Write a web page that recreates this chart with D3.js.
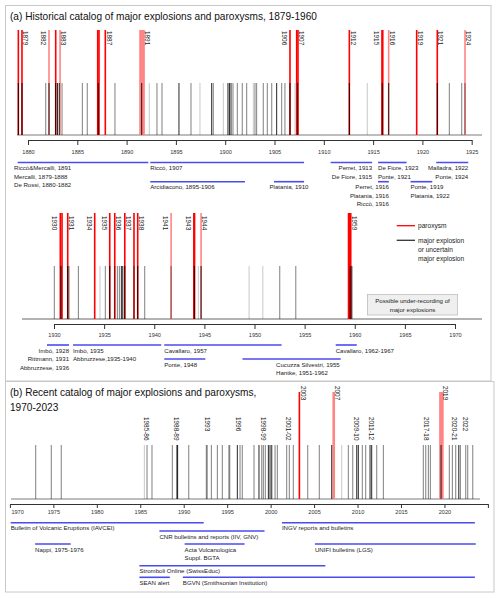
<!DOCTYPE html>
<html><head><meta charset="utf-8">
<script src="https://cdn.jsdelivr.net/npm/d3@7"></script>
<style>body{margin:0;background:#fff}svg{display:block}</style>
</head><body><svg id="c" width="500" height="598"></svg>
<script>
// ---------------- DATA ----------------
// Panel (a), upper row 1879-1925: paroxysms [start, end, certain(1)/uncertain(0)]
const paroxysmsA1 = [[1879.02,1879.02,1],[1879.39,1879.39,1],[1882.13,1882.13,0],[1882.81,1882.81,1],[1883.25,1883.25,0],[1887.07,1887.07,1],[1887.2,1887.2,1],[1887.84,1887.84,1],[1891.36,1891.77,0],[1906.57,1906.57,1],[1907.25,1907.25,1],[1907.38,1907.38,1],[1912.59,1912.59,1],[1915.9,1915.9,1],[1915.98,1915.98,1],[1916.58,1916.58,0],[1919.42,1919.42,1],[1921.51,1921.51,1],[1924.32,1924.32,0]];
// major explosions [year, number of reports]
const explosionsA1 = [[1879.02,3],[1879.39,3],[1881.8,2],[1882.13,3],[1882.81,3],[1882.99,3],[1883.17,3],[1883.45,2],[1885.51,2],[1886.01,2],[1887.13,3],[1888.82,2],[1891.53,3],[1892.3,1],[1893.08,2],[1893.59,2],[1895.31,3],[1896.53,2],[1897.44,1],[1898.63,3],[1898.79,2],[1899.81,1],[1900.28,3],[1900.43,3],[1900.59,3],[1900.79,2],[1901.23,2],[1901.73,2],[1902.18,2],[1902.85,1],[1903.02,2],[1903.19,2],[1903.86,2],[1904.27,2],[1904.72,2],[1905.22,3],[1905.73,2],[1906.06,2],[1906.57,3],[1907.08,1],[1907.35,3],[1912.59,3],[1914.41,1],[1915.93,3],[1916.58,3],[1921.51,3],[1922.73,2],[1923.99,2],[1924.32,2]];
// paroxysm year labels [text, year of line, side]
const labelsA1 = [["1879",1879.39,1],["1882",1882.13,-1],["1883",1883.25,1],["1887",1887.84,1],["1891",1891.77,1],["1906",1906.57,-1],["1907",1907.38,1],["1912",1912.59,1],["1915",1915.9,-1],["1916",1916.58,1],["1919",1919.42,1],["1921",1921.51,1],["1924",1924.32,1]];
const ticksA1 = [1880,1885,1890,1895,1900,1905,1910,1915,1920,1925];
const sourcesA1 = [
 [["Riccò&Mercalli, 1891","Mercalli, 1879-1888","De Rossi, 1880-1882"],1878.95,1892.2],
 [["Riccò, 1907"],1892.4,1908.0],
 [["Arcidiacono, 1895-1906"],1892.4,1902.0],
 [["Platania, 1910"],1904.95,1908.0],
 [["Perret, 1913","De Fiore, 1915"],1910.7,1914.9],
 [["De Fiore, 1923","Ponte, 1921"],1915.5,1918.4],
 [["Perret, 1916","Platania, 1916","Riccò, 1916"],1915.5,1916.6],
 [["Ponte, 1919","Platania, 1922"],1918.8,1921.0],
 [["Malladra, 1922","Ponte, 1924"],1921.4,1924.65]
];

// Panel (a), lower row 1930-1970
const paroxysmsA2 = [[1930.63,1930.63,1],[1930.8,1930.8,1],[1931.37,1931.37,1],[1934.06,1934.06,1],[1935.56,1935.56,1],[1936.06,1936.06,1],[1937.06,1937.06,1],[1937.98,1937.98,1],[1938.35,1938.35,1],[1941.68,1941.68,0],[1943.95,1943.95,1],[1944.02,1944.02,1],[1944.67,1944.67,0],[1959.38,1959.6,1]];
const explosionsA2 = [[1930.03,2],[1930.7,3],[1931.37,3],[1931.5,2],[1932.43,2],[1934.59,1],[1935.12,2],[1935.56,3],[1936.06,2],[1936.32,2],[1936.52,2],[1936.72,3],[1936.86,3],[1937.06,3],[1937.98,2],[1938.35,3],[1939.05,2],[1941.68,2],[1944.0,3],[1944.4,1],[1944.67,3],[1949.46,1],[1950.83,1],[1952.52,2],[1954.12,2],[1959.54,3],[1959.71,3]];
const labelsA2 = [["1930",1930.63,-1],["1931",1931.37,1],["1934",1934.06,-1],["1935",1935.56,-1],["1936",1936.06,1],["1937",1937.06,1],["1938",1938.35,1],["1941",1941.68,-1],["1943",1943.95,-1],["1944",1944.67,1],["1959",1959.6,1]];
const ticksA2 = [1930,1935,1940,1945,1950,1955,1960,1965,1970];
const sourcesA2 = [
 [["Imbò, 1928","Rittmann, 1931","Abbruzzese, 1936"],1929.3,1931.5],
 [["Imbò, 1935","Abbruzzese,1935-1940"],1931.9,1940.7],
 [["Cavallaro, 1957"],1941.0,1952.7],
 [["Ponte, 1948"],1941.0,1945.1],
 [["Cucuzza Silvestri, 1955","Hantke, 1951-1962"],1948.8,1958.6],
 [["Cavallaro, 1962-1967"],1958.1,1960.2]
];

// Panel (b), 1970-2023
const paroxysmsB = [[2003.31,2003.31,1],[2007.2,2007.32,0],[2019.48,2019.82,0]];
const explosionsB = [[1972.97,2],[1974.76,2],[1975.91,2],[1985.47,1],[1985.78,2],[1986.35,2],[1988.69,2],[1989.22,3],[1989.3,3],[1990.58,2],[1992.6,2],[1992.7,2],[1993.18,2],[1993.87,2],[1994.44,2],[1995.2,2],[1995.3,2],[1996.17,3],[1996.48,2],[1996.74,2],[1998.09,2],[1998.66,3],[1998.98,2],[1999.16,2],[1999.39,2],[1999.74,3],[1999.93,3],[2000.13,3],[2000.51,2],[2000.77,2],[2001.85,2],[2002.15,2],[2002.61,2],[2004.27,2],[2005.6,2],[2007.03,3],[2008.18,1],[2008.94,2],[2009.45,2],[2009.91,3],[2010.09,3],[2010.55,2],[2010.94,2],[2011.44,3],[2011.63,3],[2012.21,2],[2012.97,2],[2017.57,2],[2017.85,2],[2018.15,2],[2018.38,2],[2019.61,3],[2020.56,2],[2020.91,2],[2021.3,2],[2021.65,3],[2021.83,2],[2022.45,2],[2022.68,2],[2023.26,2]];
const paroxysmLabelsB = [["2003",2003.73],["2007",2007.64],["2019",2020.07]];
const explosionLabelsB = [["1985-86",1985.74],["1988-89",1989.19],["1993",1992.72],["1996",1996.28],["1998-99",1999.16],["2001-02",2002.04],["2009-10",2009.91],["2011-12",2011.63],["2017-18",2017.88],["2020-21",2021.1],["2022",2022.48]];
const ticksB = [1970,1975,1980,1985,1990,1995,2000,2005,2010,2015,2020,2025];
const sourcesB = [
 [["Bulletin of Volcanic Eruptions (IAVCEI)"],1970.09,1992.3],
 [["CNR bulletins and reports (IIV, GNV)"],1987.2,1999.3],
 [["INGV reports and bulletins"],2001.3,2023.5],
 [["Nappi, 1975-1976"],1972.9,1977.0],
 [["Acta Vulcanologica","Suppl. BGTA"],1990.1,1997.0],
 [["UNIFI bulletins (LGS)"],2005.1,2023.6],
 [["Stromboli Online (SwissEduc)"],1984.9,2006.3],
 [["SEAN alert"],1984.9,1988.4],
 [["BGVN (Smithsonian Institution)"],1989.9,2023.5]
];

// ---------------- LAYOUT ----------------
const FONT = "'Liberation Sans', Arial, sans-serif";
const RED = "#ff0000", PINK = "#ff8585", BLUE = "#4b4bf0";
const svg = d3.select("#c");
const shade = d3.scaleOrdinal().domain([1,2,3]).range([0.22,0.5,0.85]);

// frames
svg.append("rect").attr("x",5.5).attr("y",5.5).attr("width",485.5).attr("height",375.5)
  .attr("fill","none").attr("stroke","#c8c8c8");
svg.append("rect").attr("x",5.5).attr("y",381.5).attr("width",488.5).attr("height",210.5)
  .attr("fill","none").attr("stroke","#c8c8c8");

// titles
svg.append("text").attr("x",10).attr("y",19.5).attr("font-family",FONT).attr("font-size",10.1).attr("fill","#111")
  .text("(a) Historical catalog of major explosions and paroxysms, 1879-1960");
svg.append("text").attr("x",10).attr("y",395.5).attr("font-family",FONT).attr("font-size",10.1).attr("fill","#111")
  .text("(b) Recent catalog of major explosions and paroxysms,");
svg.append("text").attr("x",10).attr("y",410.5).attr("font-family",FONT).attr("font-size",10.1).attr("fill","#111")
  .text("1970-2023");

function drawRow(c){
  const x = d3.scaleLinear().domain(c.domain).range(c.range);
  const g = svg.append("g");
  g.append("line").attr("x1",c.baseX[0]).attr("x2",c.baseX[1]).attr("y1",c.base).attr("y2",c.base)
    .attr("stroke",c.baseColor).attr("stroke-width",c.baseWidth);
  g.selectAll("rect.p").data(c.paroxysms).join("rect").attr("class","p")
    .attr("x",d=>x(d[0])-0.8).attr("width",d=>Math.max(x(d[1])-x(d[0]),0)+1.6)
    .attr("y",c.redTop).attr("height",c.base-c.redTop)
    .attr("fill",d=>d[2]?RED:PINK);
  g.selectAll("line.e").data(c.explosions).join("line").attr("class","e")
    .attr("x1",d=>x(d[0])).attr("x2",d=>x(d[0])).attr("y1",c.blackTop).attr("y2",c.base)
    .attr("stroke","#000").attr("stroke-opacity",d=>shade(d[1])).attr("stroke-width",1);
  const ax = d3.axisBottom(x).tickValues(c.ticks)
    .tickFormat(d=> c.hideLast && d===c.ticks[c.ticks.length-1] ? "" : d3.format("d")(d))
    .tickSize(c.tickSize).tickSizeOuter(0).tickPadding(c.tickPad);
  const ag = g.append("g").attr("transform",`translate(0,${c.axisY})`).call(ax)
    .attr("font-family",FONT).attr("font-size",5.6);
  ag.select(".domain").attr("stroke","#333");
  ag.selectAll(".tick line").attr("stroke","#333");
  ag.selectAll(".tick text").attr("fill","#333");
  if (c.firstLabelStart) ag.selectAll(".tick text").filter(d=>d===c.ticks[0]).attr("text-anchor","start").attr("x",1);
  return {x,g};
}

function rotatedLabels(g, data, xpos, top){
  g.selectAll(null).data(data).join("text")
    .attr("transform",d=>`translate(${xpos(d)},${top}) rotate(90)`)
    .attr("dominant-baseline","central").attr("font-family",FONT).attr("font-size",6.4).attr("fill","#222")
    .text(d=>d[0]);
}

function drawSources(x, g, list, slots, levelY){
  list.forEach((s,i)=>{
    const [lvl, anchor, at] = slots[i];
    const y = levelY[lvl];
    g.append("line").attr("x1",x(s[1])).attr("x2",x(s[2])).attr("y1",y).attr("y2",y)
      .attr("stroke",BLUE).attr("stroke-width",1.6);
    const tx = at!=null ? x(at) : anchor==="end" ? x(s[2]) : anchor==="middle" ? (x(s[1])+x(s[2]))/2 : x(s[1]);
    g.selectAll(null).data(s[0]).join("text")
      .attr("x",tx).attr("y",(d,j)=>y+7.6+j*8.5).attr("text-anchor",anchor)
      .attr("font-family",FONT).attr("font-size",6.1).attr("fill","#222").text(d=>d);
  });
}

// Row A1
const A1 = drawRow({domain:[1880,1925],range:[28,471.7],redTop:30,blackTop:83,base:135,axisY:140,
  baseX:[17,482],baseColor:"#bdbdbd",baseWidth:2,paroxysms:paroxysmsA1,explosions:explosionsA1,
  ticks:ticksA1,tickSize:5,tickPad:5});
rotatedLabels(A1.g, labelsA1, d=>A1.x(d[1])+(d[2]>0?3.7:-5.4), 31);
drawSources(A1.x, A1.g, sourcesA1,
  [[0,"start",1878.58],[0,"start"],[1,"start"],[1,"middle"],[0,"end"],[0,"start"],[1,"end"],[1,"start"],[0,"end"]],
  [162.5,181.7]);

// Row A2
const A2 = drawRow({domain:[1930,1970],range:[54,455],redTop:213,blackTop:266,base:319,axisY:324,
  baseX:[22,482],baseColor:"#666",baseWidth:1.2,paroxysms:paroxysmsA2,explosions:explosionsA2,
  ticks:ticksA2,tickSize:5,tickPad:4.5});
rotatedLabels(A2.g, labelsA2, d=>A2.x(d[1])+(d[2]>0?3.7:-5.4), 216);
drawSources(A2.x, A2.g, sourcesA2,
  [[0,"end"],[0,"start"],[0,"start"],[1,"start"],[1,"start",1952.15],[0,"start"]],
  [345,359]);

// legend
const lg = svg.append("g").attr("font-family",FONT).attr("font-size",6.6).attr("fill","#222");
lg.append("line").attr("x1",396.7).attr("x2",415).attr("y1",225.7).attr("y2",225.7).attr("stroke",RED).attr("stroke-width",1.3);
lg.append("text").attr("x",418).attr("y",228).text("paroxysm");
lg.append("line").attr("x1",396.7).attr("x2",415).attr("y1",240.3).attr("y2",240.3).attr("stroke","#333").attr("stroke-width",1.3);
["major explosion","or uncertain","major explosion"].forEach((t,i)=>
  lg.append("text").attr("x",418).attr("y",242.5+i*9).text(t));

// under-recording box
svg.append("rect").attr("x",367.5).attr("y",294.5).attr("width",90).attr("height",20.5)
  .attr("fill","#efefef").attr("stroke","#bdbdbd").attr("stroke-width",0.8);
["Possible under-recording of","major explosions"].forEach((t,i)=>
  svg.append("text").attr("x",412.5).attr("y",303.3+i*8.2).attr("text-anchor","middle")
   .attr("font-family",FONT).attr("font-size",6.1).attr("fill","#222").text(t));

// Panel B
const B = drawRow({domain:[1970,2025],range:[9.9,487.9],redTop:392,blackTop:445,base:499,axisY:504,
  baseX:[11,480],baseColor:"#bdbdbd",baseWidth:2,paroxysms:paroxysmsB,explosions:explosionsB,
  ticks:ticksB,tickSize:4,tickPad:2,hideLast:true,firstLabelStart:true});
rotatedLabels(B.g, paroxysmLabelsB, d=>B.x(d[1]), 386);
rotatedLabels(B.g, explosionLabelsB, d=>B.x(d[1]), 417);
drawSources(B.x, B.g, sourcesB,
  [[0,"start"],[1,"start"],[0,"start"],[2,"start"],[2,"start"],[2,"start"],[3,"start"],[4,"start"],[4,"start"]],
  [522.7,531,544,565.7,577.3]);
</script></body></html>
